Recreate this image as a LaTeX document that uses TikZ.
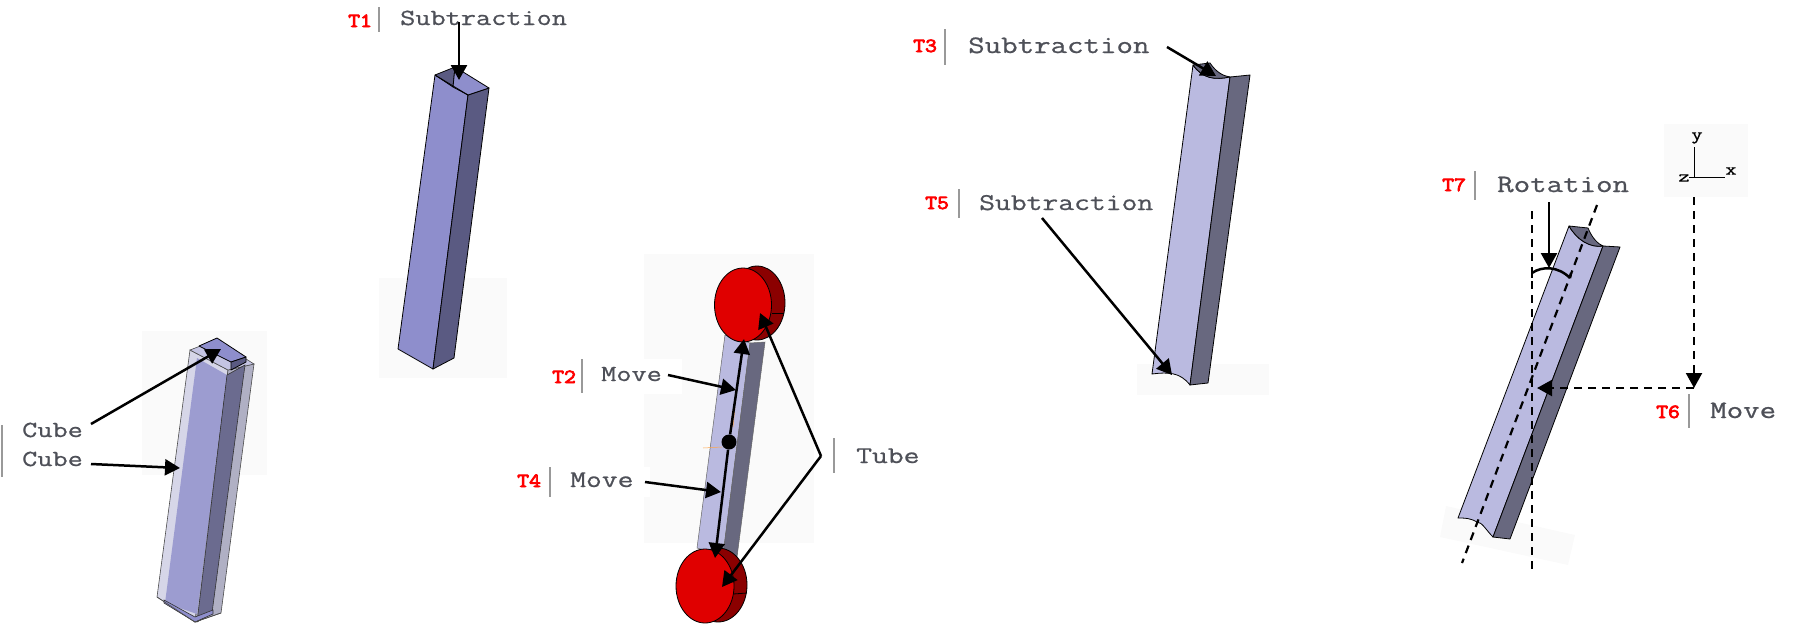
\documentclass[tikz,border=0pt]{standalone}
\usepackage{fontspec}
\usetikzlibrary{arrows.meta}
\newfontfamily\lblfont[FakeStretch=1.28,FakeBold=0.8]{Latin Modern Mono}
\newfontfamily\redfont[FakeStretch=1.15,FakeBold=4]{Latin Modern Mono}
\definecolor{bgpale}{HTML}{FAFAFA}
\definecolor{txt}{HTML}{4E5058}
\definecolor{faceA}{HTML}{8E8ECC}
\definecolor{faceAd}{HTML}{5A5A82}
\definecolor{faceB}{HTML}{9C9CD0}
\definecolor{faceC}{HTML}{BABAE0}
\definecolor{faceCd}{HTML}{68687F}
\definecolor{redF}{HTML}{E00000}
\definecolor{redD}{HTML}{8B0000}
\definecolor{ghostL}{HTML}{D6D6E8}
\definecolor{ghostD}{HTML}{B0B0C4}
\tikzset{
 x=1pt,y=-1pt,
 lbl/.style={font=\lblfont\fontsize{#1}{#1}\selectfont,text=txt,anchor=base west,inner sep=0pt},
 tag/.style={font=\redfont\fontsize{20}{20}\selectfont,text=red,anchor=base west,inner sep=0pt},
 sep/.style={draw=black!40,line width=1.5pt},
 conn/.style={black,line width=2.5pt,-{Triangle[length=15pt,width=16pt]}},
 plain/.style={black,line width=2.5pt},
 dashln/.style={black,line width=2.2pt,dash pattern=on 8pt off 6pt},
 dashconn/.style={dashln,-{Triangle[length=15pt,width=16pt]}},
 edge3d/.style={draw=black,line width=.8pt,line join=round},
}
\begin{document}
\begin{tikzpicture}
\useasboundingbox (0,0) rectangle (1795,624);
% ---------- pale backdrops
\fill[bgpale] (142,331) rectangle (267,475);
\fill[bgpale] (379,278) rectangle (507,378);
\fill[bgpale] (644,254) rectangle (814,543);
\fill[white] (640,359) rectangle (682,394);
\fill[white] (640,467) rectangle (650,497);
\fill[bgpale] (1137,364) rectangle (1269,395);
\fill[bgpale] (1664,124) rectangle (1748,197);
\fill[bgpale] (1446,506) -- (1575,535) -- (1568,565) -- (1440,537) -- cycle;

% ---------- Cube figure
\fill[ghostL,draw=black!70,line width=.6pt] (190,350) -- (228,370) -- (195,622) -- (157,597) -- cycle;
\fill[ghostD,draw=black!70,line width=.6pt] (228,370) -- (254,364) -- (221,613) -- (195,622) -- cycle;
\fill[faceB!60!white,draw=black!70,line width=.6pt] (190,350) -- (216,340) -- (254,364) -- (228,370) -- cycle;
\fill[faceB] (197,358) -- (227,375) -- (197,614) -- (165,603) -- cycle;
\fill[faceAd!90!white,draw=black!80,line width=.6pt] (227,375) -- (245,365) -- (212,613) -- (197,622) -- cycle;
\fill[faceA,draw=black!80,line width=.6pt] (164,603) -- (195,622) -- (213,614) -- (213,610) -- (195,617) -- (164,600) -- cycle;
\fill[faceA,edge3d] (199,346) -- (217,338) -- (246,357) -- (231,362) -- cycle;
\fill[faceAd,edge3d] (231,362) -- (246,357) -- (246,362) -- (231,370) -- cycle;
\draw[draw=black!70,line width=.6pt] (157,597) -- (195,622) -- (221,613);
\node[lbl=23] (cubeA) at (22,437) {Cube};
\node[lbl=23] (cubeB) at (22,466) {Cube};
\coordinate (barCa) at (2,425);
\coordinate (barCb) at (2,477);
\draw[sep] (barCa) -- (barCb);
\coordinate (cubeAs) at (91,424);
\coordinate (cubeAe) at (221,349);
\coordinate (cubeBs) at (91,464);
\coordinate (cubeBe) at (180,468);
\draw[conn] (cubeAs) -- (cubeAe);
\draw[conn] (cubeBs) -- (cubeBe);

% ---------- T1 figure
\fill[faceA,edge3d] (435,75) -- (468,95) -- (433,369) -- (398,349) -- cycle;
\fill[faceAd,edge3d] (468,95) -- (489,88) -- (454,358) -- (433,369) -- cycle;
\fill[faceAd,edge3d] (435,75) -- (455,67) -- (453,87) -- cycle;
\fill[faceA,edge3d] (455,67) -- (489,88) -- (468,95) -- (453,87) -- cycle;
\draw[edge3d] (435,75) -- (468,95);
\node[tag] (t1) at (348,27) {T1};
\node[lbl=23] (subA) at (400,25) {Subtraction};
\coordinate (barAa) at (379,7);
\coordinate (barAb) at (379,32);
\draw[sep] (barAa) -- (barAb);
\coordinate (subAs) at (459,22);
\coordinate (subAe) at (459,80);
\draw[conn] (subAs) -- (subAe);

% ---------- T2/T4 figure
\fill[faceC,draw=black!60,line width=.5pt] (725,335) -- (750,343) -- (723,555) -- (697,548) -- cycle;
\fill[faceCd,draw=black!60,line width=.5pt] (750,343) -- (765,342) -- (737,557) -- (723,555) -- cycle;
\fill[redD,edge3d] (757,303) ellipse [x radius=28,y radius=37];
\draw[edge3d] (772,313) -- (784,313);
\fill[redF,edge3d] (743,305) ellipse [x radius=28.5,y radius=37];
\fill[redD,edge3d] (718,585) ellipse [x radius=29,y radius=37];
\draw[edge3d] (733,594) -- (747,593);
\fill[redF,edge3d] (705,586) ellipse [x radius=29,y radius=37];
\draw[orange!70,line width=.5pt] (735,407) -- (733,427) (703,448) -- (722,447);
\node[circle,fill=black,minimum size=15pt,inner sep=0pt] (dot) at (729,442) {};
\coordinate (moveTop) at (744,339);
\coordinate (moveBot) at (715,558);
\draw[conn] (dot) -- (moveTop);
\draw[conn] (dot) -- (moveBot);
\node[tag] (t2) at (552,383) {T2};
\node[lbl=23] (moveA) at (601,381) {Move};
\coordinate (barBa) at (582,359);
\coordinate (barBb) at (582,393);
\draw[sep] (barBa) -- (barBb);
\coordinate (moveAs) at (668,375);
\coordinate (moveAe) at (736,390);
\draw[conn] (moveAs) -- (moveAe);
\node[tag] (t4) at (517,487) {T4};
\node[lbl=24] (moveB) at (570,487) {Move};
\coordinate (barDa) at (550,467);
\coordinate (barDb) at (550,497);
\draw[sep] (barDa) -- (barDb);
\coordinate (moveBs) at (645,482);
\coordinate (moveBe) at (721,492);
\draw[conn] (moveBs) -- (moveBe);
\node[lbl=24] (tube) at (856,463) {Tube};
\coordinate (barTa) at (834,438);
\coordinate (barTb) at (834,473);
\draw[sep] (barTa) -- (barTb);
\coordinate (apex) at (821,456);
\coordinate (discA) at (760,313);
\coordinate (discB) at (722,587);
\draw[conn] (apex) -- (discA);
\draw[conn] (apex) -- (discB);

% ---------- T3/T5 figure
\fill[faceC,edge3d] (1193,65) .. controls (1203,79) and (1215,80) .. (1230,77) -- (1190,385) .. controls (1180,372) and (1168,372) .. (1152,374) -- cycle;
\fill[faceCd,edge3d] (1230,77) -- (1250,75) -- (1208,383) -- (1190,385) -- cycle;
\fill[faceCd,edge3d] (1193,65) -- (1210,63) .. controls (1216,72) and (1223,76) .. (1230,77) .. controls (1215,80) and (1203,79) .. (1193,65) -- cycle;
\node[tag] (t3) at (913,52) {T3};
\node[lbl=25] (subB) at (968,53) {Subtraction};
\coordinate (barEa) at (945,29);
\coordinate (barEb) at (945,65);
\draw[sep] (barEa) -- (barEb);
\coordinate (subBs) at (1167,47);
\coordinate (subBe) at (1216,76);
\draw[conn] (subBs) -- (subBe);
\node[tag] (t5) at (925,209) {T5};
\node[lbl=24] (subC) at (979,210) {Subtraction};
\coordinate (barFa) at (959,189);
\coordinate (barFb) at (959,218);
\draw[sep] (barFa) -- (barFb);
\coordinate (subCs) at (1042,218);
\coordinate (subCe) at (1172,375);
\draw[conn] (subCs) -- (subCe);

% ---------- T6/T7 figure
\fill[faceC,edge3d] (1569,226) .. controls (1577,240) and (1590,248) .. (1603,246) -- (1493,537) .. controls (1486,530) and (1482,522) .. (1477,522) .. controls (1470,518) and (1465,518) .. (1458,518) -- cycle;
\fill[faceCd,edge3d] (1603,246) -- (1620,247) -- (1510,539) -- (1493,537) -- cycle;
\fill[faceCd,edge3d] (1569,226) -- (1588,228) .. controls (1592,238) and (1598,244) .. (1603,246) .. controls (1590,248) and (1577,240) .. (1569,226) -- cycle;
\coordinate (vTop) at (1532,211);
\coordinate (vBot) at (1532,570);
\draw[dashln] (vTop) -- (vBot);
\coordinate (axTop) at (1597,205);
\coordinate (axBot) at (1462,563);
\draw[dashln] (axTop) -- (axBot);
\coordinate (arcL) at (1532,273);
\coordinate (arcR) at (1570,278);
\draw[plain] (arcL) .. controls (1542,266) and (1558,266) .. (arcR);
\draw[plain] (arcL) -- (1532,278);
\draw[plain] (arcR) -- (1571,273);
\node[tag] (t7) at (1442,191) {T7};
\node[lbl=25] (rot) at (1497,192) {Rotation};
\coordinate (barGa) at (1475,171);
\coordinate (barGb) at (1475,200);
\draw[sep] (barGa) -- (barGb);
\coordinate (rotS) at (1549,202);
\coordinate (rotE) at (1549,268);
\draw[conn] (rotS) -- (rotE);
% axes
\coordinate (orig) at (1694,177);
\coordinate (axY) at (1694,147);
\coordinate (axX) at (1725,177);
\draw[black,line width=.9pt] (axY) -- (orig) -- (axX);
\draw[black,line width=.9pt] (1689,177) -- (orig);
\node[font=\lblfont\fontsize{17}{17}\selectfont,inner sep=0pt] (ly) at (1697,138) {y};
\node[font=\lblfont\fontsize{17}{17}\selectfont,inner sep=0pt] (lx) at (1731,171) {x};
\node[font=\lblfont\fontsize{17}{17}\selectfont,inner sep=0pt] (lz) at (1684,178) {z};
\coordinate (corner) at (1694,388);
\coordinate (dropTop) at (1694,197);
\coordinate (moveEnd) at (1537,388);
\draw[dashconn] (dropTop) -- (corner);
\draw[dashconn] (corner) -- (moveEnd);
\node[tag] (t6) at (1656,418) {T6};
\node[lbl=25] (moveC) at (1710,418) {Move};
\coordinate (barHa) at (1689,394);
\coordinate (barHb) at (1689,428);
\draw[sep] (barHa) -- (barHb);
\end{tikzpicture}
\end{document}
